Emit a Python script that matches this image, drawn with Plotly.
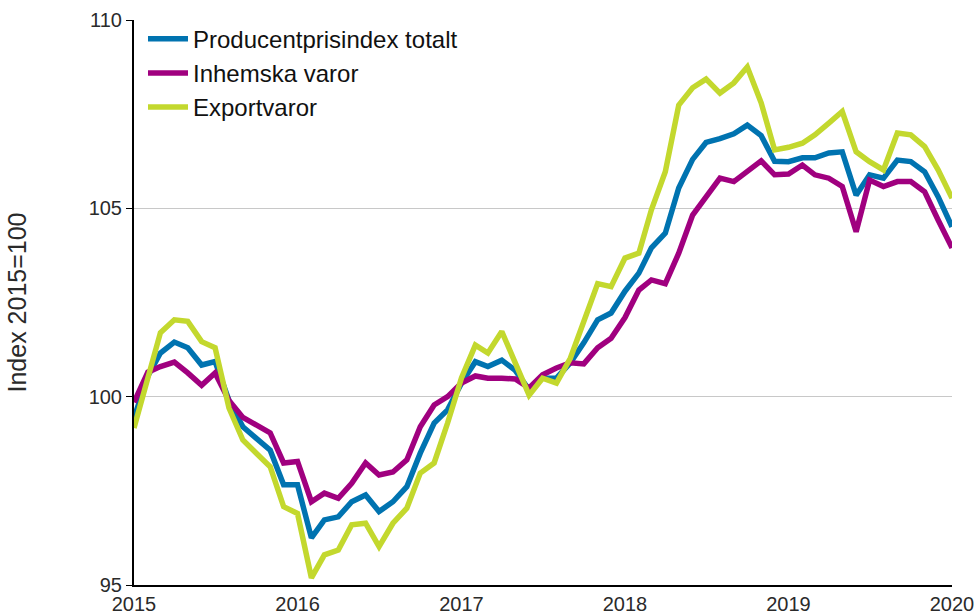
import pandas as pd
import plotly.graph_objects as go

months = pd.date_range("2015-01-01", "2020-01-01", freq="MS")

totalt = [99.43, 100.55, 101.16, 101.45, 101.3, 100.84, 100.93, 99.9, 99.2, 98.9,
          98.58, 97.66, 97.66, 96.25, 96.73, 96.81, 97.21, 97.39, 96.95, 97.21,
          97.61, 98.5, 99.3, 99.65, 100.36, 100.93, 100.8, 100.97, 100.7, 100.18,
          100.49, 100.49, 100.9, 101.43, 102.04, 102.22, 102.8, 103.28, 103.95, 104.34,
          105.54, 106.3, 106.75, 106.85, 106.98, 107.21, 106.93, 106.25, 106.24, 106.34,
          106.34, 106.47, 106.5, 105.35, 105.89, 105.8, 106.28, 106.24, 105.97, 105.31,
          104.51]

inhemska = [99.85, 100.65, 100.8, 100.92, 100.63, 100.3, 100.63, 99.9, 99.45, 99.25,
            99.04, 98.24, 98.28, 97.21, 97.44, 97.3, 97.7, 98.24, 97.92, 98.0,
            98.32, 99.2, 99.78, 100.0, 100.36, 100.55, 100.49, 100.49, 100.47, 100.23,
            100.58, 100.76, 100.9, 100.87, 101.3, 101.55, 102.1, 102.83, 103.1, 103.0,
            103.81, 104.82, 105.31, 105.8, 105.71, 105.97, 106.26, 105.89, 105.91, 106.15,
            105.89, 105.8, 105.58, 104.38, 105.75, 105.58, 105.71, 105.71, 105.44, 104.69,
            103.95]

export = [99.17, 100.47, 101.7, 102.04, 102.0, 101.46, 101.3, 99.7, 98.85, 98.5,
          98.14, 97.08, 96.9, 95.19, 95.8, 95.93, 96.6, 96.64, 96.02, 96.64,
          97.04, 97.97, 98.24, 99.3, 100.5, 101.37, 101.16, 101.73, 100.93, 100.04,
          100.49, 100.36, 101.02, 102.0, 103.0, 102.92, 103.68, 103.81, 104.96, 105.97,
          107.74, 108.2, 108.43, 108.06, 108.33, 108.75, 107.8, 106.55, 106.62, 106.73,
          106.95, 107.26, 107.57, 106.5, 106.24, 106.02, 107.0, 106.95, 106.64, 106.02,
          105.27]

series_names = ["Producentprisindex totalt", "Inhemska varor", "Exportvaror"]
series_values = [totalt, inhemska, export]
colors = ["#0073b0", "#a0007f", "#c3d82e"]

year_ticks = ["2015-01-01", "2016-01-01", "2017-01-01", "2018-01-01", "2019-01-01", "2020-01-01"]
year_labels = ["2015", "2016", "2017", "2018", "2019", "2020"]
y_ticks = [95, 100, 105, 110]

FONT = "Liberation Sans, Arial, sans-serif"

fig = go.Figure()
for name, vals, col in zip(series_names, series_values, colors):
    fig.add_trace(go.Scatter(x=months, y=vals, name=name, mode="lines",
                             line=dict(color=col, width=5.5)))

fig.update_layout(
    width=976, height=615,
    margin=dict(l=134, r=24, t=20, b=30, autoexpand=False),
    paper_bgcolor="white", plot_bgcolor="white",
    font=dict(family=FONT, color="#2a2a2a", size=20),
    showlegend=True,
    legend=dict(x=0.011, y=1.006, xanchor="left", yanchor="top",
                bgcolor="rgba(0,0,0,0)", font=dict(size=24, color="#111"),
                tracegroupgap=0, itemwidth=40),
    xaxis=dict(range=["2015-01-01", "2020-01-01"], tickvals=year_ticks, ticktext=year_labels,
               showgrid=False, showline=True, linecolor="#000", linewidth=2,
               ticks="", tickfont=dict(size=20), zeroline=False, automargin=False),
    yaxis=dict(range=[95, 110], tickvals=y_ticks, showgrid=True, gridcolor="#c8c8c8",
               gridwidth=1, showline=True, linecolor="#000", linewidth=2,
               ticks="outside", ticklen=6, tickcolor="#000", tickfont=dict(size=20),
               zeroline=False, automargin=False,
               title=dict(text="Index 2015=100", font=dict(size=25), standoff=55)),
)

fig.write_html("out.html", config={"displayModeBar": False})

# remove the browser's default page margin so the figure sits at the window origin
with open("out.html", encoding="utf-8") as f:
    html = f.read()
html = html.replace("<head>", "<head><style>html,body{margin:0;padding:0;overflow:hidden;}</style>", 1)
with open("out.html", "w", encoding="utf-8") as f:
    f.write(html)
